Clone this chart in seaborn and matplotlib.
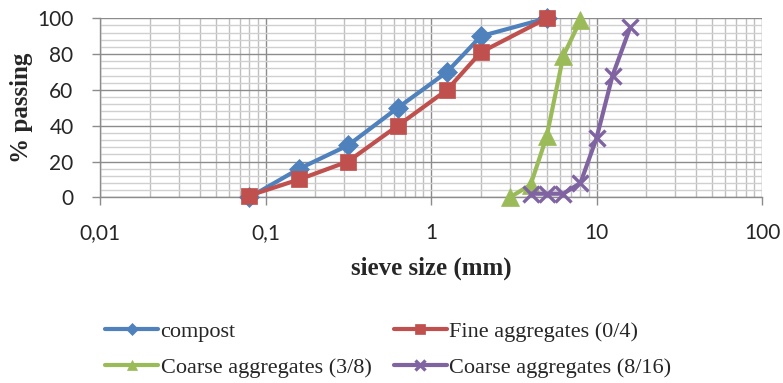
import matplotlib
matplotlib.use("Agg")
import matplotlib.pyplot as plt
import seaborn as sns
import numpy as np
import pandas as pd
from matplotlib.ticker import LogLocator, NullFormatter, MultipleLocator

# data
compost_x = [0.08, 0.16, 0.315, 0.63, 1.25, 2, 5]
compost_y = [0, 16, 29, 50, 70, 90, 100]
fine_x = [0.08, 0.16, 0.315, 0.63, 1.25, 2, 5]
fine_y = [1, 10, 20, 40, 60, 81, 100]
coarse38_x = [3, 4, 5, 6.3, 8]
coarse38_y = [0, 7, 34, 79, 99]
coarse816_x = [4, 5, 6.3, 8, 10, 12.5, 16]
coarse816_y = [2, 2, 2, 8, 33, 68, 95]
series_names = ["compost", "Fine aggregates (0/4)", "Coarse aggregates (3/8)", "Coarse aggregates (8/16)"]
x_tick_values = [0.01, 0.1, 1, 10, 100]
x_tick_labels = ["0,01", "0,1", "1", "10", "100"]

sns.set_theme(style="white")
plt.rcParams['font.family'] = ['Liberation Serif', 'DejaVu Serif']

fig = plt.figure(figsize=(7.83, 3.83), dpi=100)
ax = fig.add_axes([100/783, (383-197.3)/383, (762-100)/783, (197.3-18.3)/383])

colors = ["#4F81BD", "#C0504D", "#9BBB59", "#8064A2"]
markers = ["D", "s", "^", "x"]
msizes = [10, 12, 13, 12]
xs = [compost_x, fine_x, coarse38_x, coarse816_x]
ys = [compost_y, fine_y, coarse38_y, coarse816_y]

for name, x, y, c, m, ms in zip(series_names, xs, ys, colors, markers, msizes):
    df = pd.DataFrame({"x": x, "y": y})
    sns.lineplot(data=df, x="x", y="y", ax=ax, color=c, marker=m, markersize=ms,
                 linewidth=3.0, label=name, markeredgecolor=c,
                 markeredgewidth=(2.4 if m == "x" else 0.5),
                 clip_on=False, zorder=5)

ax.set_xscale("log")
ax.set_xlim(0.01, 100)
ax.set_ylim(0, 100)

ax.xaxis.set_minor_locator(LogLocator(base=10, subs=np.arange(2, 10), numticks=20))
ax.xaxis.set_minor_formatter(NullFormatter())
ax.set_xticks(x_tick_values)
ax.set_xticklabels(x_tick_labels)
ax.yaxis.set_major_locator(MultipleLocator(20))
ax.yaxis.set_minor_locator(MultipleLocator(4))

ax.grid(which="major", axis="both", color="#8c8c8c", linewidth=1.0, zorder=0)
ax.grid(which="minor", axis="x", color="#bfbfbf", linewidth=1.0, zorder=0)
ax.grid(which="minor", axis="y", color="#d0d0d0", linewidth=1.0, zorder=0)
ax.set_axisbelow(True)

for s in ["top", "right"]:
    ax.spines[s].set_visible(False)
for s in ["left", "bottom"]:
    ax.spines[s].set_color("#8c8c8c")
    ax.spines[s].set_linewidth(1.0)

ax.tick_params(axis="both", which="major", direction="out", length=6, width=1, color="#8c8c8c",
               labelsize=15, left=True, bottom=True)
ax.tick_params(axis="x", which="major", pad=12.5)
ax.tick_params(axis="y", which="major", pad=13)
ax.tick_params(axis="both", which="minor", length=0)
for lab in ax.get_xticklabels() + ax.get_yticklabels():
    lab.set_family(["Lato", "DejaVu Sans"])

ax.set_xlabel("sieve size (mm)", fontsize=18, fontweight="bold", labelpad=10)
ax.set_ylabel("% passing", fontsize=18, fontweight="bold", labelpad=3)

ax.get_legend().remove()
handles, labels = ax.get_legend_handles_labels()
order = [0, 2, 1, 3]
fig.legend([handles[i] for i in order], [labels[i] for i in order],
           loc="upper left", bbox_to_anchor=(105/783, (383-321)/383), ncol=2,
           frameon=False, fontsize=16, handlelength=2.4, handletextpad=0.1,
           columnspacing=1.0, labelspacing=0.72, markerscale=0.6, borderpad=0,
           borderaxespad=0)

fig.savefig("out.png", dpi=100)
